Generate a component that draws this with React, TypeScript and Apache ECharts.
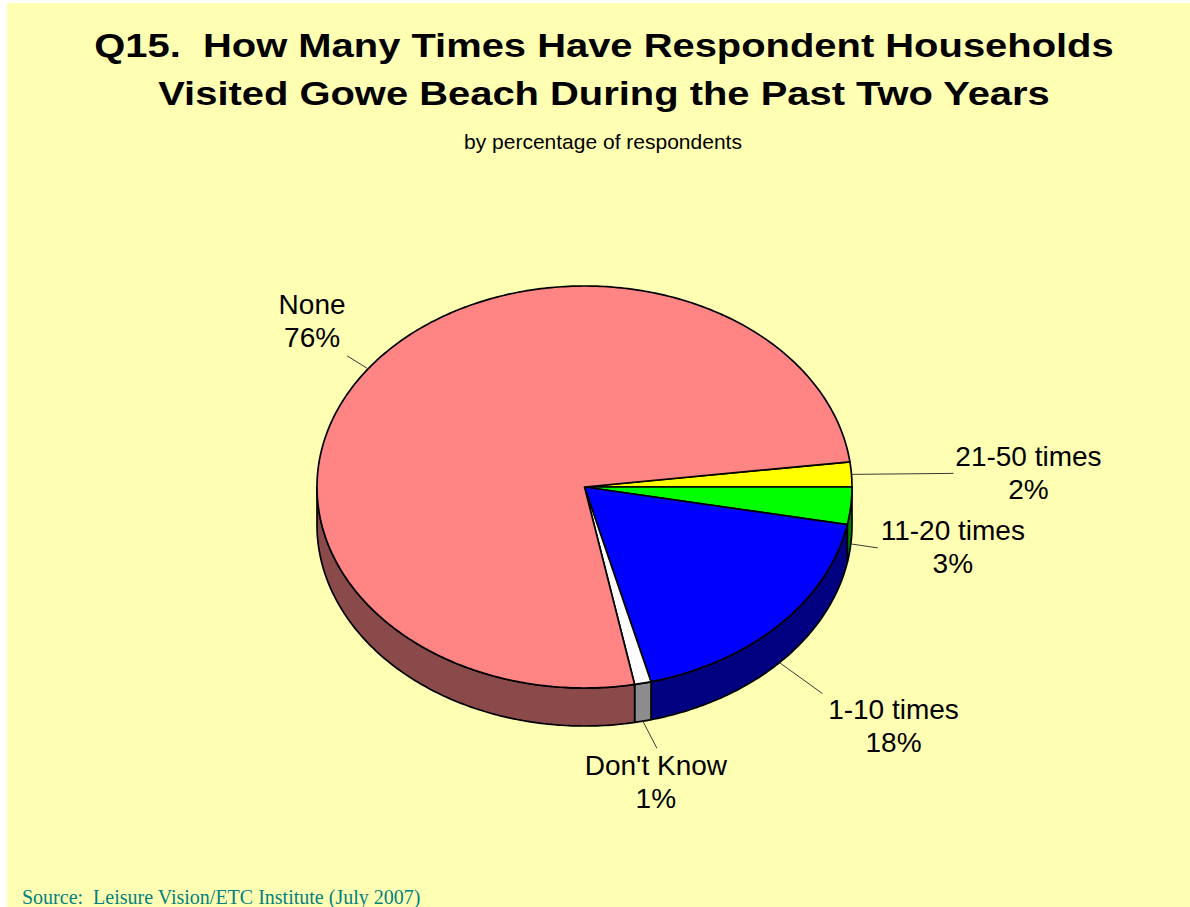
import React, { useEffect, useRef } from "react";
import * as echarts from "echarts";

// Survey answers, listed clockwise starting just above the 3 o'clock position
const categories = ["21-50 times", "11-20 times", "1-10 times", "Don't Know", "None"];
const percentages = [2, 3, 18, 1, 76];

const titleLines = [
  "Q15.  How Many Times Have Respondent Households",
  "Visited Gowe Beach During the Past Two Years",
];
const subtitle = "by percentage of respondents";
const sourceNote = "Source:  Leisure Vision/ETC Institute (July 2007)";

// Slice palette: top face and darker outer wall
const topColors = ["#FFFF00", "#00FF00", "#0000FF", "#FFFFFF", "#FF8585"];
const wallColors = ["#808000", "#008000", "#000080", "#8C8C8C", "#8B4A4A"];

// Tilted pie geometry (ellipse centre, radii, wall depth, first slice start angle)
const PIE = { cx: 584.5, cy: 487, rx: 267.5, ry: 201, depth: 38, startDeg: -7.2 };

// Leader line: offset of its outer end from the rim point; label: offset of its centre from that end
const leaderOffsets = [[102, -1], [27, 4], [43, 31], [14, 27], [-21, -13]];
const labelOffsets = [[75, -0.5], [75, -0.5], [71, 32.5], [-1, 34], [-35, -35]];

const SANS = "'Liberation Sans', Arial, Helvetica, sans-serif";
const SERIF = "'Liberation Serif', 'Times New Roman', serif";

const total = percentages.reduce((s, v) => s + v, 0);
const cumulative = percentages.map((_, i) =>
  percentages.slice(0, i).reduce((s, v) => s + v, 0)
);

function rimPoint(deg: number, dz = 0): number[] {
  const r = (deg * Math.PI) / 180;
  return [PIE.cx + PIE.rx * Math.cos(r), PIE.cy + PIE.ry * Math.sin(r) + dz];
}

function arc(a0: number, a1: number, dz = 0): number[][] {
  const pts: number[][] = [];
  const steps = Math.max(2, Math.ceil(Math.abs(a1 - a0) / 0.75));
  for (let k = 0; k <= steps; k++) pts.push(rimPoint(a0 + ((a1 - a0) * k) / steps, dz));
  return pts;
}

function renderSlice(params: any, api: any) {
  const i = params.dataIndex;
  const v = api.value(0) as number;
  const a0 = PIE.startDeg + (cumulative[i] / total) * 360;
  const a1 = a0 + (v / total) * 360;
  const children: any[] = [];

  // Top face
  children.push({
    type: "polygon",
    shape: { points: [[PIE.cx, PIE.cy], ...arc(a0, a1)] },
    style: { fill: topColors[i], stroke: "#000", lineWidth: 1.7, lineJoin: "round" },
    z2: 10,
  });

  // Outer wall on the front half of the ellipse
  for (const base of [-360, 0, 360]) {
    const s = Math.max(a0, base);
    const e = Math.min(a1, base + 180);
    if (e > s) {
      const top = arc(s, e);
      const bottom = arc(e, s, PIE.depth);
      children.push({
        type: "polygon",
        shape: { points: [...top, ...bottom] },
        style: { fill: wallColors[i], stroke: "#000", lineWidth: 1.7, lineJoin: "round" },
        z2: 1,
      });
    }
  }

  // Leader line from the rim (bottom of the wall on the front half) to the label
  const mid = (a0 + a1) / 2;
  const front = Math.sin((mid * Math.PI) / 180) > 0;
  const start = rimPoint(mid, front ? PIE.depth : 0);
  const end = [start[0] + leaderOffsets[i][0], start[1] + leaderOffsets[i][1]];
  children.push({
    type: "line",
    shape: { x1: start[0], y1: start[1], x2: end[0], y2: end[1] },
    style: { stroke: "#3a3a3a", lineWidth: 1 },
    z2: 20,
  });
  children.push({
    type: "text",
    x: end[0] + labelOffsets[i][0],
    y: end[1] + labelOffsets[i][1],
    style: {
      text: `${categories[i]}\n${v}%`,
      fill: "#000",
      fontSize: 28,
      fontFamily: SANS,
      lineHeight: 33,
      align: "center",
      verticalAlign: "middle",
      textAlign: "center",
      textVerticalAlign: "middle",
    },
    z2: 20,
  });

  return { type: "group", children };
}

export default function App() {
  const ref = useRef<HTMLDivElement>(null);

  useEffect(() => {
    if (!ref.current) return;
    const chart = echarts.init(ref.current, undefined, { renderer: "svg" });
    chart.setOption({
      animation: false,
      backgroundColor: "#FFFFFF",
      graphic: [
        {
          type: "rect",
          shape: { x: 7, y: 3, width: 1183, height: 904 },
          style: { fill: "#FFFFB3" },
          z: -10,
        },
        ...titleLines.map((line, k) => ({
          type: "group",
          x: 604,
          y: 46 + k * 48,
          scaleX: 1.21,
          children: [
            {
              type: "text",
              style: {
                text: line,
                fill: "#000",
                fontSize: 33,
                fontWeight: "bold",
                fontFamily: SANS,
                align: "center",
                verticalAlign: "middle",
                textAlign: "center",
                textVerticalAlign: "middle",
              },
            },
          ],
        })),
        {
          type: "text",
          x: 603,
          y: 141,
          style: {
            text: subtitle,
            fill: "#000",
            fontSize: 21,
            fontFamily: SANS,
            align: "center",
            verticalAlign: "middle",
            textAlign: "center",
            textVerticalAlign: "middle",
          },
        },
        {
          type: "text",
          x: 22,
          y: 897,
          style: {
            text: sourceNote,
            fill: "#008080",
            fontSize: 20,
            fontFamily: SERIF,
            align: "left",
            verticalAlign: "middle",
            textAlign: "left",
            textVerticalAlign: "middle",
          },
        },
      ],
      series: [
        {
          type: "custom",
          coordinateSystem: "none",
          renderItem: renderSlice,
          data: percentages.map((v, i) => ({ name: categories[i], value: [v] })),
          silent: true,
        },
      ],
    });
    return () => chart.dispose();
  }, []);

  return (
    <div
      ref={ref}
      style={{ position: "absolute", left: 0, top: 0, width: 1190, height: 907 }}
    />
  );
}
